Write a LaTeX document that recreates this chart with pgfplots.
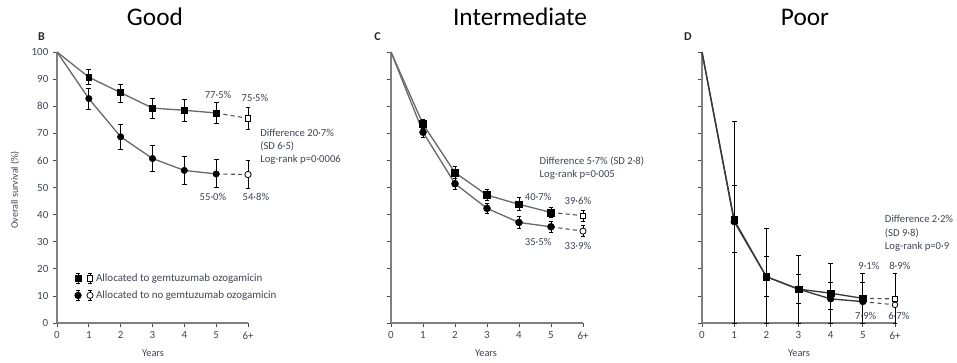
\documentclass[border=0pt]{standalone}
\usepackage{pgfplots}
\usepackage{pgfplotstable}
\pgfplotsset{compat=1.18}
\usepackage{fontspec}
\setmainfont{Carlito}
\definecolor{txt}{rgb}{0.25,0.27,0.33}
\definecolor{axgray}{rgb}{0.5,0.5,0.5}
\definecolor{lngray}{rgb}{0.42,0.42,0.42}

% Panel B (Good)
\pgfplotstableread{
x y ep em
0 100 0 0
1 90.7 2.8 2.7
2 85.0 3.0 3.5
3 79.3 3.7 3.8
4 78.5 4.0 4.0
5 77.5 4.0 4.0
6 75.5 4.0 4.0
}\BGo
\pgfplotstableread{
x y ep em
0 100 0 0
1 82.8 3.7 3.8
2 68.7 4.6 4.7
3 60.7 5.0 4.7
4 56.3 5.2 5.1
5 55.0 5.5 5.0
6 54.8 5.2 5.3
}\BNo
% Panel C (Intermediate)
\pgfplotstableread{
x y ep em
0 100 0 0
1 73.4 1.7 1.7
2 55.5 2.2 2.2
3 47.2 2.1 2.1
4 43.8 2.4 2.4
5 40.8 2.0 2.0
6 39.6 2.0 2.0
}\CGo
\pgfplotstableread{
x y ep em
0 100 0 0
1 70.4 2.0 2.0
2 51.4 2.0 2.0
3 42.3 2.0 2.0
4 37.1 2.2 2.2
5 35.5 2.0 2.0
6 33.9 2.0 2.0
}\CNo
% Panel D (Poor)
\pgfplotstableread{
x y ep em
0 100 0 0
1 38.0 36.3 38.0
2 17.1 17.8 17.1
3 12.5 12.6 12.5
4 11.0 11.0 11.0
5 9.1 9.2 9.1
6 8.9 9.4 8.9
}\DGo
\pgfplotstableread{
x y ep em
0 100 0 0
1 37.4 13.2 11.5
2 17.1 7.4 7.1
3 12.5 5.5 5.2
4 8.9 6.0 3.9
5 7.9 7.0 7.9
6 6.7 11.6 6.7
}\DNo

\tikzset{ann/.style={font=\fontsize{8}{9.5}\selectfont, text=txt, inner sep=0pt}}
\pgfplotsset{
  panel/.style={
    scale only axis, height=203.25pt,
    xmin=0, xmax=6, ymin=0, ymax=100,
    axis lines=left, axis line style={-, axgray, line width=1.1pt},
    tick align=outside, major tick length=3pt,
    tick style={black!70, line width=0.6pt},
    xtick={0,1,2,3,4,5,6}, xticklabels={0,1,2,3,4,5,6+},
    ytick={0,10,...,100},
    ticklabel style={font=\fontsize{8.2}{9.5}\selectfont, text=txt},
    /pgf/number format/assume math mode=true,
    clip=false,
  },
  srv/.style={lngray, line width=1pt, no marks},
  srvd/.style={black!70, line width=0.8pt, dashed, dash pattern=on 3pt off 2.5pt, no marks},
  eb/.style={only marks, black,
    error bars/y dir=both, error bars/y explicit,
    error bars/error bar style={black, line width=0.6pt},
    error bars/error mark options={rotate=90, black, mark size=1.8pt, line width=0.6pt}},
}

\begin{document}
\begin{tikzpicture}[x=0.75pt,y=0.75pt]
\useasboundingbox (0,0) rectangle (957,362);

%%%%%%%%%%%%%%%% B
\begin{axis}[panel, width=143.25pt, at={(42.75pt,29.25pt)}, anchor=south west,
  legend style={at={(rel axis cs:0.09,0.133)}, anchor=west, draw=none, fill=none,
    font=\fontsize{8.2}{9.5}\selectfont, text=txt, row sep=1.5pt, inner sep=0pt,
    /tikz/every even column/.append style={column sep=5.5pt}},
  legend cell align=left]
\addlegendimage{legend image code/.code={
  \draw[black,line width=0.55pt] (0pt,-3.6pt)--(0pt,3.6pt) (-1.6pt,3.6pt)--(1.6pt,3.6pt) (-1.6pt,-3.6pt)--(1.6pt,-3.6pt);
  \fill[black] (-2.3pt,-2.3pt) rectangle (2.3pt,2.3pt);
  \draw[black,line width=0.55pt] (9pt,-3.6pt)--(9pt,3.6pt) (7.4pt,3.6pt)--(10.6pt,3.6pt) (7.4pt,-3.6pt)--(10.6pt,-3.6pt);
  \draw[black,fill=white,line width=0.55pt] (6.9pt,-2.1pt) rectangle (11.1pt,2.1pt);
}}
\addlegendentry{Allocated to gemtuzumab ozogamicin}
\addlegendimage{legend image code/.code={
  \draw[black,line width=0.55pt] (0pt,-3.6pt)--(0pt,3.6pt) (-1.6pt,3.6pt)--(1.6pt,3.6pt) (-1.6pt,-3.6pt)--(1.6pt,-3.6pt);
  \fill[black] (0pt,0pt) circle (2.5pt);
  \draw[black,line width=0.55pt] (9pt,-3.6pt)--(9pt,3.6pt) (7.4pt,3.6pt)--(10.6pt,3.6pt) (7.4pt,-3.6pt)--(10.6pt,-3.6pt);
  \draw[black,fill=white,line width=0.55pt] (9pt,0pt) circle (2.3pt);
}}
\addlegendentry{Allocated to no gemtuzumab ozogamicin}

\addplot[srv, restrict x to domain=0:5, forget plot] table[x=x,y=y] {\BGo};
\addplot[srv, restrict x to domain=0:5, forget plot] table[x=x,y=y] {\BNo};
\addplot[srvd, restrict x to domain=5:6, forget plot] table[x=x,y=y] {\BGo};
\addplot[srvd, restrict x to domain=5:6, forget plot] table[x=x,y=y] {\BNo};
\addplot[eb, mark=square*, mark size=2.2pt, restrict x to domain=1:5, forget plot] table[x=x,y=y,y error plus=ep,y error minus=em] {\BGo};
\addplot[eb, mark=*, mark size=2.4pt, restrict x to domain=1:5, forget plot] table[x=x,y=y,y error plus=ep,y error minus=em] {\BNo};
\addplot[eb, mark=square*, mark size=1.9pt, mark options={fill=white, line width=0.6pt}, restrict x to domain=6:6, forget plot] table[x=x,y=y,y error plus=ep,y error minus=em] {\BGo};
\addplot[eb, mark=*, mark size=2.4pt, mark options={fill=white, line width=0.6pt}, restrict x to domain=6:6, forget plot] table[x=x,y=y,y error plus=ep,y error minus=em] {\BNo};

\node[ann] at (axis cs:5.06,84.1) {77·5\%};
\node[ann] at (axis cs:6.22,83.0) {75·5\%};
\node[ann, anchor=west] at (axis cs:6.38,70.1) {Difference 20·7\%};
\node[ann, anchor=west] at (axis cs:6.38,65.3) {(SD 6·5)};
\node[ann, anchor=west] at (axis cs:6.38,60.1) {Log-rank p=0·0006};
\node[ann] at (axis cs:4.9,46.5) {55·0\%};
\node[ann] at (axis cs:6.25,46.5) {54·8\%};
\end{axis}

%%%%%%%%%%%%%%%% C
\begin{axis}[panel, width=144pt, at={(293.25pt,29.25pt)}, anchor=south west, yticklabels={}]
\addplot[srv, restrict x to domain=0:5] table[x=x,y=y] {\CGo};
\addplot[srv, restrict x to domain=0:5] table[x=x,y=y] {\CNo};
\addplot[srvd, restrict x to domain=5:6] table[x=x,y=y] {\CGo};
\addplot[srvd, restrict x to domain=5:6] table[x=x,y=y] {\CNo};
\addplot[eb, mark=square*, mark size=2.5pt, restrict x to domain=1:5] table[x=x,y=y,y error plus=ep,y error minus=em] {\CGo};
\addplot[eb, mark=*, mark size=2.6pt, restrict x to domain=1:5] table[x=x,y=y,y error plus=ep,y error minus=em] {\CNo};
\addplot[eb, mark=square*, mark size=2.0pt, mark options={fill=white, line width=0.6pt}, restrict x to domain=6:6] table[x=x,y=y,y error plus=ep,y error minus=em] {\CGo};
\addplot[eb, mark=*, mark size=2.3pt, mark options={fill=white, line width=0.6pt}, restrict x to domain=6:6] table[x=x,y=y,y error plus=ep,y error minus=em] {\CNo};

\node[ann, anchor=west] at (axis cs:4.64,59.8) {Difference 5·7\% (SD 2·8)};
\node[ann, anchor=west] at (axis cs:4.64,54.6) {Log-rank p=0·005};
\node[ann] at (axis cs:4.6,46.5) {40·7\%};
\node[ann] at (axis cs:5.84,45.0) {39·6\%};
\node[ann] at (axis cs:4.6,29.9) {35·5\%};
\node[ann] at (axis cs:5.84,28.4) {33·9\%};
\end{axis}

%%%%%%%%%%%%%%%% D
\begin{axis}[panel, width=144.75pt, at={(526.5pt,29.25pt)}, anchor=south west, yticklabels={},
  srv/.style={black!78, line width=1pt, no marks}]
\addplot[srv, restrict x to domain=0:5] table[x=x,y=y] {\DGo};
\addplot[srv, restrict x to domain=0:5] table[x=x,y=y] {\DNo};
\addplot[srvd, restrict x to domain=5:6] table[x=x,y=y] {\DGo};
\addplot[srvd, restrict x to domain=5:6] table[x=x,y=y] {\DNo};
\addplot[eb, mark=square*, mark size=2.5pt, restrict x to domain=1:5] table[x=x,y=y,y error plus=ep,y error minus=em] {\DGo};
\addplot[eb, mark=*, mark size=2.5pt, restrict x to domain=1:5] table[x=x,y=y,y error plus=ep,y error minus=em] {\DNo};
\addplot[eb, mark=square*, mark size=2.0pt, mark options={fill=white, line width=0.6pt}, restrict x to domain=6:6] table[x=x,y=y,y error plus=ep,y error minus=em] {\DGo};
\addplot[eb, mark=*, mark size=2.1pt, mark options={fill=white, line width=0.6pt}, restrict x to domain=6:6] table[x=x,y=y,y error plus=ep,y error minus=em] {\DNo};

\node[ann, anchor=west] at (axis cs:5.68,38.4) {Difference 2·2\%};
\node[ann, anchor=west] at (axis cs:5.68,33.2) {(SD 9·8)};
\node[ann, anchor=west] at (axis cs:5.68,28.0) {Log-rank p=0·9};
\node[ann] at (axis cs:5.19,21.0) {9·1\%};
\node[ann] at (axis cs:6.15,21.0) {8·9\%};
\node[ann] at (axis cs:5.09,2.6) {7·9\%};
\node[ann] at (axis cs:6.12,2.6) {6·7\%};
\end{axis}

% titles, panel letters, axis titles
\node[font=\fontsize{19}{22}\selectfont] at (155,345) {Good};
\node[font=\fontsize{19}{22}\selectfont] at (520,345) {Intermediate};
\node[font=\fontsize{19}{22}\selectfont] at (805,345) {Poor};
\node[font=\bfseries\fontsize{9}{10}\selectfont, text=black!85] at (41.5,325) {B};
\node[font=\bfseries\fontsize{9}{10}\selectfont, text=black!85] at (377.5,325) {C};
\node[font=\bfseries\fontsize{9}{10}\selectfont, text=black!85] at (688,325) {D};
\node[font=\fontsize{7.5}{8}\selectfont, text=txt, rotate=90] at (15,172) {Overall survival (\%)};
\node[font=\fontsize{7.8}{8}\selectfont, text=txt] at (153,9) {Years};
\node[font=\fontsize{7.8}{8}\selectfont, text=txt] at (486,9) {Years};
\node[font=\fontsize{7.8}{8}\selectfont, text=txt] at (799,9) {Years};
\end{tikzpicture}
\end{document}
